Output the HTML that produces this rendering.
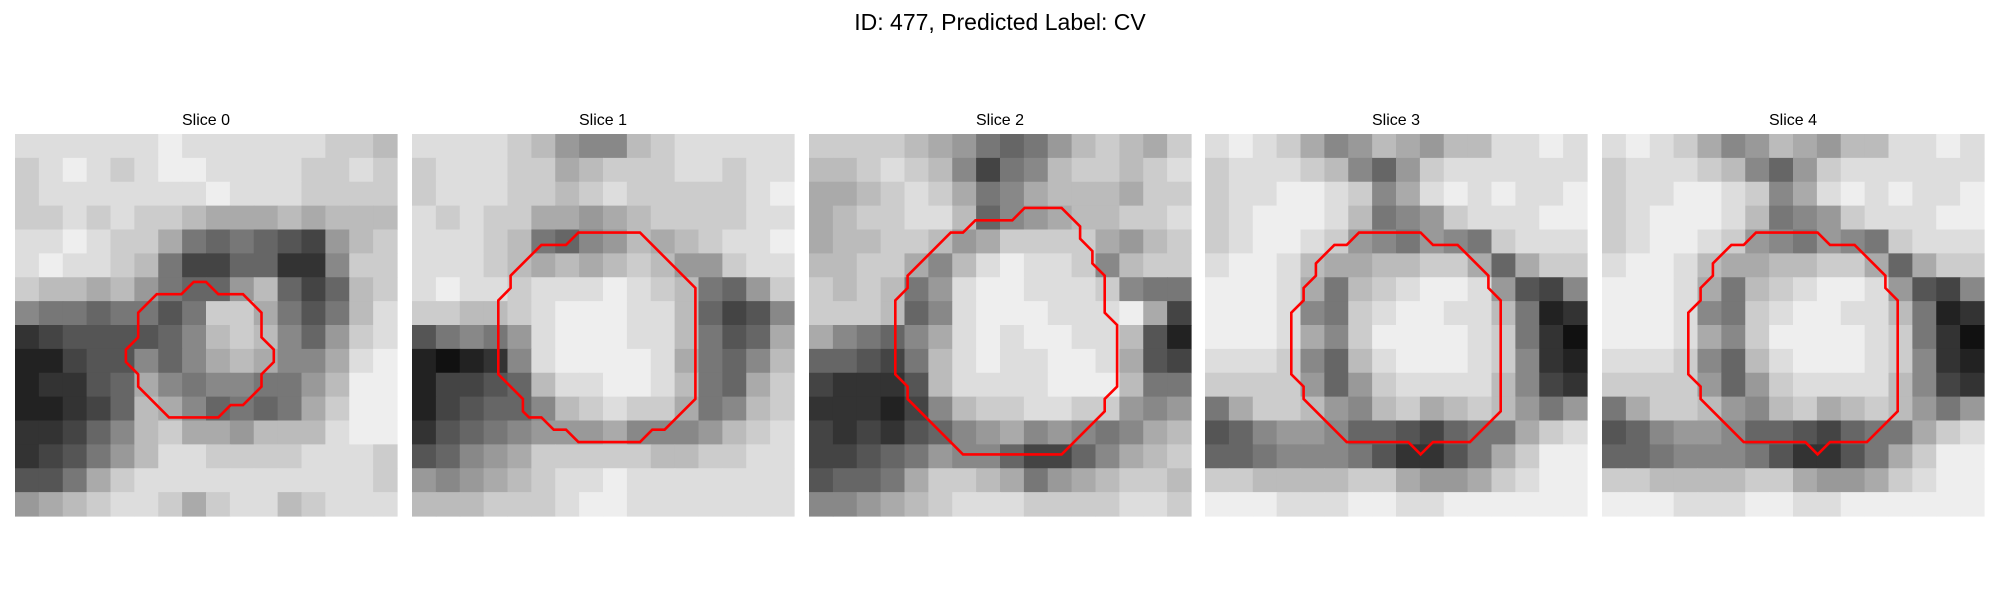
<!DOCTYPE html>
<html><head><meta charset="utf-8">
<style>
html,body{margin:0;padding:0;background:#fff;width:2000px;height:600px;overflow:hidden}
svg{display:block}
text{font-family:"Liberation Sans","DejaVu Sans",sans-serif}
</style></head>
<body>
<svg id="fig" width="2000" height="600" viewBox="0 0 2000 600">
<text x="1000" y="30" text-anchor="middle" font-size="23" fill="#000">ID: 477, Predicted Label: CV</text>
</svg>
<script>
// Coarse grayscale estimates (hex 0=black .. f=white), 16x16 per slice
const slice0 = ["ddddddeddddddccbb".slice(0,16),"cdedcdeeddd ccdc".replace(' ','d'),"cddddddded ddcccc".replace(' ',''),"ccdcdccbaaababbb","ddedcca76765 49bc".replace(' ',''),"dedd cb74466338cc".replace(' ',''),"cbbab976 69b646bc".replace(' ',''),"877677 57cca757bd".replace(' ',''),"3455556 8bcb869cd".replace(' ',''),"22455868aba88ade","2335 6a87887 79bee".replace(/ /g,''),"223 46ba8676 7acee".replace(/ /g,''),"33468bcaa9bbbdee","3457 9bddccccdddc".replace(' ',''),"557acdddddddddd c".replace(' ',''),"9abcddcacddbcddd"];
const slice1 = ["ddddcb988bcddddd","cdddccabcccddcdd","cdddccbcdccccc de".replace(' ',''),"dcdccaa9abccccdd","dddcb7689babcdde","dddcbabab cb99cdd".replace(' ',''),"deddcddd edcb769c".replace(' ',''),"ccbbcdeeeddb6458","5787 9deeeddb756a".replace(' ',''),"21238deeeeda768b","24456bddeedb76ac","2456 68bcdcca78bc".replace(' ',''),"35678999a8889bcd","5689acccccbbccdd","989abcddeddddddd","bbbcccdeeddddddd"];
const slice2 = ["ccccba9767 9bcbac".replace(' ',''),"bbcdcb847 8bccbcd".replace(' ',''),"aabcdca78abbbacc","abccddb689abbccd","abbccb9acccca9bcd".slice(0,16),"bbcca8bdeddc8bcc","cbcb79deeddd c877".replace(' ',''),"cccb68deeedddea44","a876 8adedeeddb52".replace(' ',''),"66547bdedd eeda54".replace(' ',''),"43335bddddeeeb77","33324 8bccddcc989".replace(' ',''),"434356 89a898 78ab".replace(/ /g,''),"4456798864468abc","56 67accba79abccb".replace(' ',''),"889abcdddccccddc"];
const slice3 = ["dedca89ba9bbdded","cdddcb869cdddddd","cddeedc8adeded de".replace(' ',''),"cdeeedb789cdddee","cdeedc98798 7cddd".replace(' ',''),"deedbaabbcca6acc","eeeda7bcdeed9548","eeed87cdeeddb723","eeeda8ceeeedc731","dddc86bdeeedc832","cccc969cddddb843","7acc b98bcabcb979".replace(' ',''),"56899866546 77acd".replace(' ',''),"66788875335 7acee".replace(' ',''),"ccbbbbcca99acdee","eeedddeeddeeeeee"];
const slice4 = slice3.slice();
const sliceImages = [slice0, slice1, slice2, slice3, slice4];
const sliceTitles = ["Slice 0","Slice 1","Slice 2","Slice 3","Slice 4"];
// Contours in image cell units (31x31 grid)
const contour0 = [[10,14.5],[11.5,13],[13.5,13],[14.5,12],[15.5,12],[16.5,13],[18.5,13],[20,14.5],[20,16.5],[21,17.5],[21,18.5],[20,19.5],[20,20.5],[18.5,22],[17.5,22],[16.5,23],[12.5,23],[10,20.5],[10,19.5],[9,18.5],[9,17.5],[10,16.5]];
const contour1 = [[7,13.5],[8,12.5],[8,11.5],[10.5,9],[12.5,9],[13.5,8],[18.5,8],[23,12.5],[23,21.5],[20.5,24],[19.5,24],[18.5,25],[13.5,25],[12.5,24],[11.5,24],[10.5,23],[9.5,23],[9,22.5],[9,21.5],[7,19.5]];
const contour2 = [[7,13.5],[8,12.5],[8,11.5],[11.5,8],[12.5,8],[13.5,7],[16.5,7],[17.5,6],[20.5,6],[22,7.5],[22,8.5],[23,9.5],[23,10.5],[24,11.5],[24,14.5],[25,15.5],[25,20.5],[24,21.5],[24,22.5],[20.5,26],[12.5,26],[8,21.5],[8,20.5],[7,19.5]];
const contour3 = [[7,14.5],[8,13.5],[8,12.5],[9,11.5],[9,10.5],[10.5,9],[11.5,9],[12.5,8],[17.5,8],[18.5,9],[20.5,9],[23,11.5],[23,12.5],[24,13.5],[24,22.5],[21.5,25],[18.5,25],[17.5,26],[16.5,25],[11.5,25],[8,21.5],[8,20.5],[7,19.5]];
const contour4 = contour3.slice();
const contours = [contour0, contour1, contour2, contour3, contour4];

const NS = "http://www.w3.org/2000/svg";
const svg = document.getElementById('fig');
const panelX = [15, 412, 809, 1205, 1602];
const panelY = 134, panelSize = 382, gridN = 31;
function mk(tag, attrs){const e=document.createElementNS(NS,tag);for(const k in attrs)e.setAttribute(k,attrs[k]);return e;}
sliceImages.forEach((img, p) => {
  const g = mk('g', {});
  
  
  svg.appendChild(g);
  const n = img.length;
  const cs = panelSize / n;
  img.forEach((row, r) => {
    for (let c = 0; c < n; c++) {
      const ch = (row[c] || 'c');
      const v = parseInt(ch, 16);
      const gv = Math.round((isNaN(v) ? 12 : v) * 255 / 15);
      const rc = mk('rect', {x: panelX[p] + c*cs, y: panelY + r*cs, width: cs+0.6, height: cs+0.6, fill: `rgb(${gv},${gv},${gv})`});
      
      
      g.appendChild(rc);
    }
  });
  const k = panelSize / gridN;
  const pts = contours[p].map(q => (panelX[p] + q[0]*k).toFixed(1) + ',' + (panelY + q[1]*k).toFixed(1)).join(' ');
  const poly = mk('polygon', {points: pts, fill: 'none', stroke: '#ff0000', 'stroke-width': 2.6, 'stroke-linejoin': 'miter'});
  
  
  g.appendChild(poly);
  const t = mk('text', {x: panelX[p] + panelSize/2, y: 125, 'text-anchor': 'middle', 'font-size': 16, fill: '#000'});
  t.textContent = sliceTitles[p];
  
  
  svg.appendChild(t);
});
</script>
</body></html>
